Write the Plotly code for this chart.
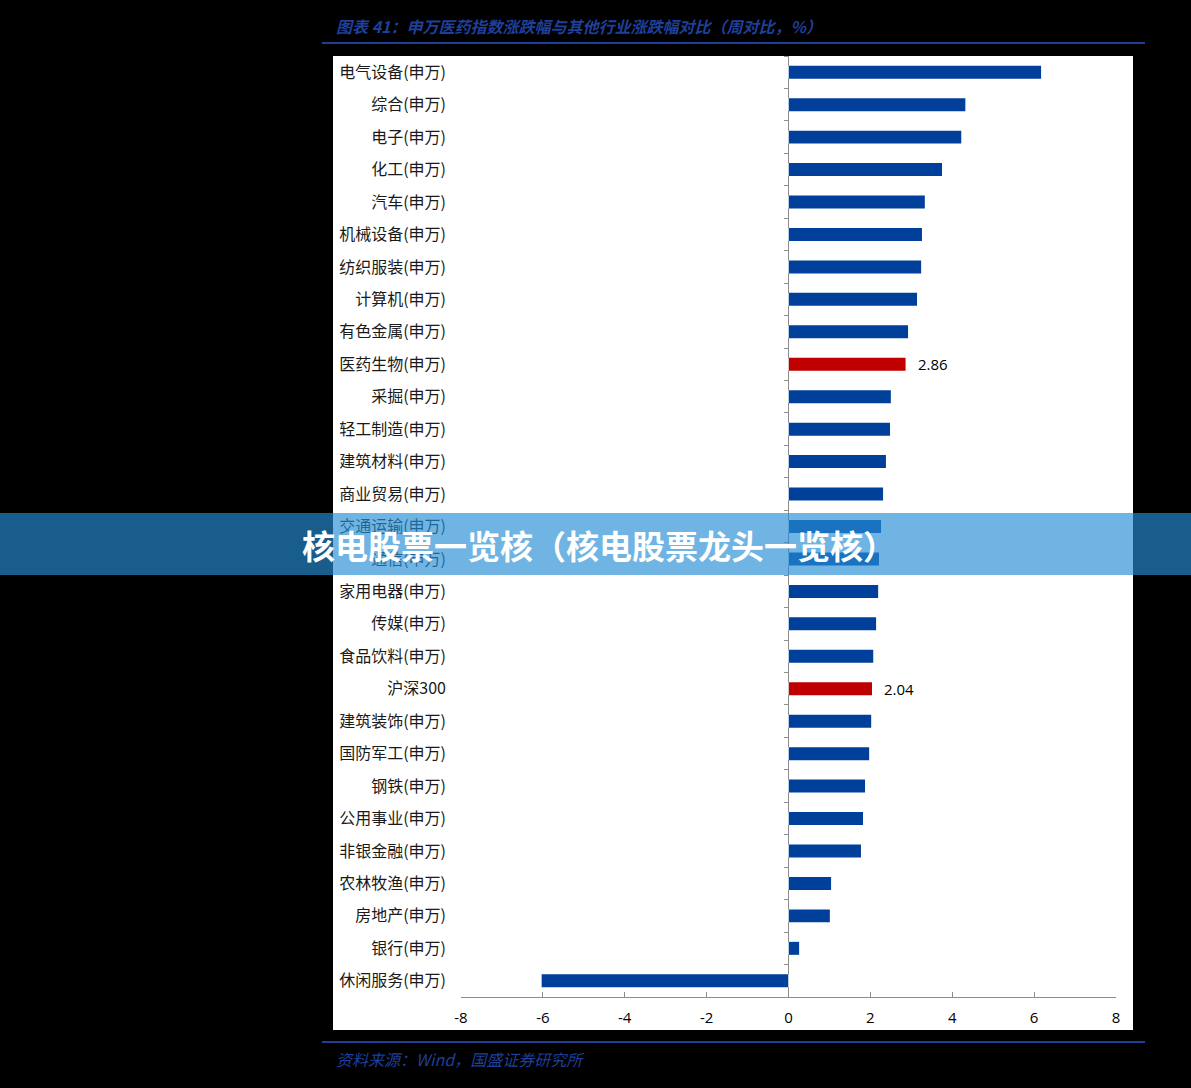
import plotly.graph_objects as go

categories = ["电气设备(申万)", "综合(申万)", "电子(申万)", "化工(申万)", "汽车(申万)",
              "机械设备(申万)", "纺织服装(申万)", "计算机(申万)", "有色金属(申万)", "医药生物(申万)",
              "采掘(申万)", "轻工制造(申万)", "建筑材料(申万)", "商业贸易(申万)", "交通运输(申万)",
              "通信(申万)", "家用电器(申万)", "传媒(申万)", "食品饮料(申万)", "沪深300",
              "建筑装饰(申万)", "国防军工(申万)", "钢铁(申万)", "公用事业(申万)", "非银金融(申万)",
              "农林牧渔(申万)", "房地产(申万)", "银行(申万)", "休闲服务(申万)"]
values = [6.17, 4.32, 4.22, 3.75, 3.33, 3.26, 3.24, 3.14, 2.92, 2.86,
          2.50, 2.48, 2.38, 2.31, 2.26, 2.21, 2.19, 2.14, 2.07, 2.04,
          2.02, 1.97, 1.87, 1.82, 1.77, 1.04, 1.01, 0.26, -6.03]
highlight = ["医药生物(申万)", "沪深300"]
x_ticks = [-8, -6, -4, -2, 0, 2, 4, 6, 8]

title_text = "图表 41：申万医药指数涨跌幅与其他行业涨跌幅对比（周对比，%）"
source_text = "资料来源：Wind，国盛证券研究所"
banner_text = "核电股票一览核（核电股票龙头一览核）"

BLUE = "#00409a"
RED = "#c00000"
colors = [RED if c in highlight else BLUE for c in categories]

W, H = 1191, 1088
L, R, T, B = 461, 1116, 56, 997

def px(x):
    return (x - L) / (R - L)

def py(y):
    return (B - y) / (B - T)

fig = go.Figure()
fig.add_trace(go.Bar(
    x=values, y=categories, orientation="h",
    marker=dict(color=colors, line=dict(width=0)),
    width=0.4, showlegend=False, hoverinfo="skip",
))
fig.add_trace(go.Bar(
    x=[0] * len(categories), y=categories, orientation="h", yaxis="y2",
    marker=dict(color="rgba(0,0,0,0)"), showlegend=False, hoverinfo="skip",
))

cat_range = [len(categories) - 0.5, -0.5]

annotations = [
    dict(text=title_text, xref="paper", yref="paper", x=px(334), y=py(26),
         xanchor="left", yanchor="middle", showarrow=False,
         font=dict(family="Noto Sans CJK SC", size=16, color="#1f3f99",
                   style="italic", weight="bold")),
    dict(text=source_text, xref="paper", yref="paper", x=px(334), y=py(1059),
         xanchor="left", yanchor="middle", showarrow=False,
         font=dict(family="Noto Sans CJK SC", size=16, color="#1f3f99",
                   style="italic")),
]
for c, v in zip(categories, values):
    if c in highlight:
        annotations.append(dict(
            text=f"{v:.2f}", x=v, y=c, xref="x", yref="y",
            xanchor="left", yanchor="middle", xshift=10, showarrow=False,
            font=dict(family="Open Sans, Noto Sans, sans-serif", size=15, color="#000000"),
        ))
annotations.append(dict(
    text=banner_text, xref="paper", yref="paper", x=px(599), y=py(545),
    xanchor="center", yanchor="middle", showarrow=False,
    font=dict(family="Noto Sans CJK SC", size=33, color="#ffffff", weight="bold"),
))

fig.update_layout(
    width=W, height=H,
    margin=dict(l=L, r=W - R, t=T, b=H - B, pad=0),
    paper_bgcolor="#000000",
    plot_bgcolor="#ffffff",
    xaxis=dict(
        range=[-8, 8], tickvals=x_ticks, ticktext=[str(t) for t in x_ticks],
        showgrid=False, showline=True, linecolor="#8c8c8c", linewidth=1,
        ticks="inside", ticklen=5, tickcolor="#8c8c8c",
        zeroline=True, zerolinecolor="#8c8c8c", zerolinewidth=1,
        tickfont=dict(family="Open Sans, Noto Sans, sans-serif", size=15, color="#000000"),
        ticklabelstandoff=7, fixedrange=True,
    ),
    yaxis=dict(
        type="category", categoryorder="array", categoryarray=categories,
        range=cat_range, showgrid=False, showline=False, zeroline=False,
        ticks="", ticklabelstandoff=14,
        tickfont=dict(family="Noto Sans CJK SC", size=16, color="#1a1a1a"),
    ),
    yaxis2=dict(
        type="category", categoryorder="array", categoryarray=categories,
        range=cat_range, overlaying="y", anchor="free", position=0.5, side="left",
        showgrid=False, showline=False, zeroline=False, showticklabels=False,
        ticks="outside", tickson="boundaries", ticklen=5, tickcolor="#8c8c8c",
    ),
    bargap=0.6,
    shapes=[
        dict(type="rect", xref="paper", yref="paper", x0=px(333), x1=px(1133),
             y0=py(1030), y1=py(56), fillcolor="#ffffff", line=dict(width=0), layer="below"),
        dict(type="line", xref="paper", yref="paper", x0=px(322), x1=px(1145),
             y0=py(43), y1=py(43), line=dict(color="#1f3f99", width=2)),
        dict(type="line", xref="paper", yref="paper", x0=px(322), x1=px(1145),
             y0=py(1042), y1=py(1042), line=dict(color="#1f3f99", width=2)),
        dict(type="rect", xref="paper", yref="paper", x0=px(0), x1=px(W),
             y0=py(575), y1=py(513), fillcolor="rgba(38,141,212,0.66)",
             line=dict(width=0), layer="above"),
    ],
    annotations=annotations,
)

fig.write_html("out.html")
